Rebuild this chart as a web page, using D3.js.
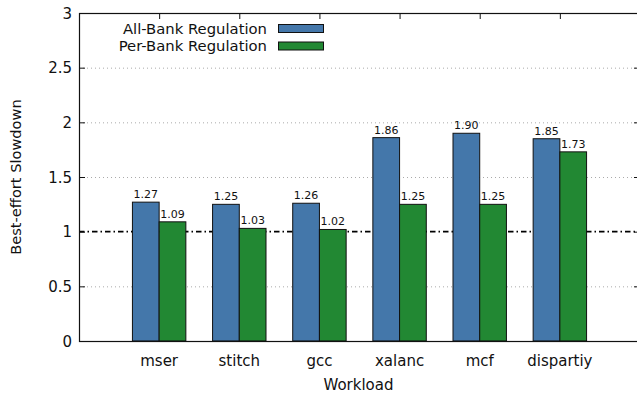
<!DOCTYPE html>
<html><head><meta charset="utf-8">
<script src="https://cdn.jsdelivr.net/npm/d3@7"></script>
<style>
html,body{margin:0;padding:0;background:#fff;overflow:hidden}
text{font-family:"DejaVu Sans",sans-serif;fill:#111}
</style></head>
<body>
<svg id="c" width="637" height="395"></svg>
<script>
const categories = ["mser","stitch","gcc","xalanc","mcf","dispartiy"];
const allBank = [1.27,1.25,1.26,1.86,1.90,1.85];
const perBank = [1.09,1.03,1.02,1.25,1.25,1.73];
const seriesNames = ["All-Bank Regulation","Per-Bank Regulation"];
const seriesColors = ["#4477AA","#228833"];
const yTicks = [0,0.5,1,1.5,2,2.5,3];
const labelFmt = d3.format(".2f");

const svg = d3.select("#c");
const L = 79, R = 640, T = 13, B = 341;
const x = d3.scaleLinear().domain([-1, 6]).range([L, R]);
const y = d3.scaleLinear().domain([0, 3]).range([B, T]);
const bw = (x(1) - x(0)) / 3;

// grid
svg.append("g").selectAll("line").data(yTicks.filter(v => v > 0 && v < 3 && v !== 1)).join("line")
  .attr("x1", L).attr("x2", R).attr("y1", d => y(d) + 0.5).attr("y2", d => y(d) + 0.5)
  .attr("stroke", "#aaa").attr("stroke-width", 1).attr("stroke-dasharray", "1,3");

// reference line at 1
svg.append("line").attr("x1", L).attr("x2", R).attr("y1", y(1)).attr("y2", y(1))
  .attr("stroke", "#000").attr("stroke-width", 1.8).attr("stroke-dasharray", "5.5,3,1.5,3");

// bars
const series = [allBank, perBank];
series.forEach((vals, s) => {
  const g = svg.append("g");
  g.selectAll("rect").data(vals).join("rect")
    .attr("x", (d, i) => x(i) - bw + s * bw)
    .attr("y", d => y(d))
    .attr("width", bw)
    .attr("height", d => y(0) - y(d))
    .attr("fill", seriesColors[s])
    .attr("stroke", "#111").attr("stroke-width", 1);
  g.selectAll("text").data(vals).join("text")
    .attr("x", (d, i) => x(i) - bw / 2 + s * bw)
    .attr("y", d => y(d) - 4)
    .attr("text-anchor", "middle")
    .attr("font-size", 11)
    .text(d => labelFmt(d));
});

// frame
svg.append("rect").attr("x", L + 0.5).attr("y", T + 0.5).attr("width", R - L).attr("height", B - T)
  .attr("fill", "none").attr("stroke", "#111").attr("stroke-width", 1.2);

// y axis ticks (inward, both sides)
const yAxisL = d3.axisRight(y).tickValues(yTicks).tickSize(6).tickFormat("");
svg.append("g").attr("transform", `translate(${L},0)`).call(yAxisL)
  .call(g => g.select(".domain").remove()).selectAll("line").attr("stroke", "#111");
const yAxisR = d3.axisLeft(y).tickValues(yTicks).tickSize(6).tickFormat("");
svg.append("g").attr("transform", `translate(${R},0)`).call(yAxisR)
  .call(g => g.select(".domain").remove()).selectAll("line").attr("stroke", "#111");
// y tick labels
svg.append("g").selectAll("text").data(yTicks).join("text")
  .attr("x", L - 7).attr("y", d => y(d) + 5.5)
  .attr("text-anchor", "end").attr("font-size", 15)
  .text(d => d3.format("")(d));

// x ticks (inward top)
const idx = d3.range(categories.length);
const xTop = d3.axisBottom(x).tickValues(idx).tickSize(6).tickFormat("");
svg.append("g").attr("transform", `translate(0,${T})`).call(xTop)
  .call(g => g.select(".domain").remove()).selectAll("line").attr("stroke", "#111");
svg.append("g").selectAll("text").data(categories).join("text")
  .attr("x", (d, i) => x(i)).attr("y", 365.5)
  .attr("text-anchor", "middle").attr("font-size", 15)
  .text(d => d);

// axis titles
svg.append("text").attr("x", (L + R) / 2 - 1).attr("y", 389.5)
  .attr("text-anchor", "middle").attr("font-size", 15).text("Workload");
svg.append("text").attr("transform", `translate(21,${(T + B) / 2}) rotate(-90)`)
  .attr("text-anchor", "middle").attr("font-size", 14.6).text("Best-effort Slowdown");

// legend
const lg = svg.append("g");
seriesNames.forEach((n, i) => {
  const yy = 24 + i * 17.5;
  lg.append("text").attr("x", 267).attr("y", yy + 9.5).attr("text-anchor", "end")
    .attr("font-size", 14.8).text(n);
  lg.append("rect").attr("x", 278.5).attr("y", yy + 0.5).attr("width", 45).attr("height", 8)
    .attr("fill", seriesColors[i]).attr("stroke", "#111").attr("stroke-width", 1);
});
</script>
</body></html>
